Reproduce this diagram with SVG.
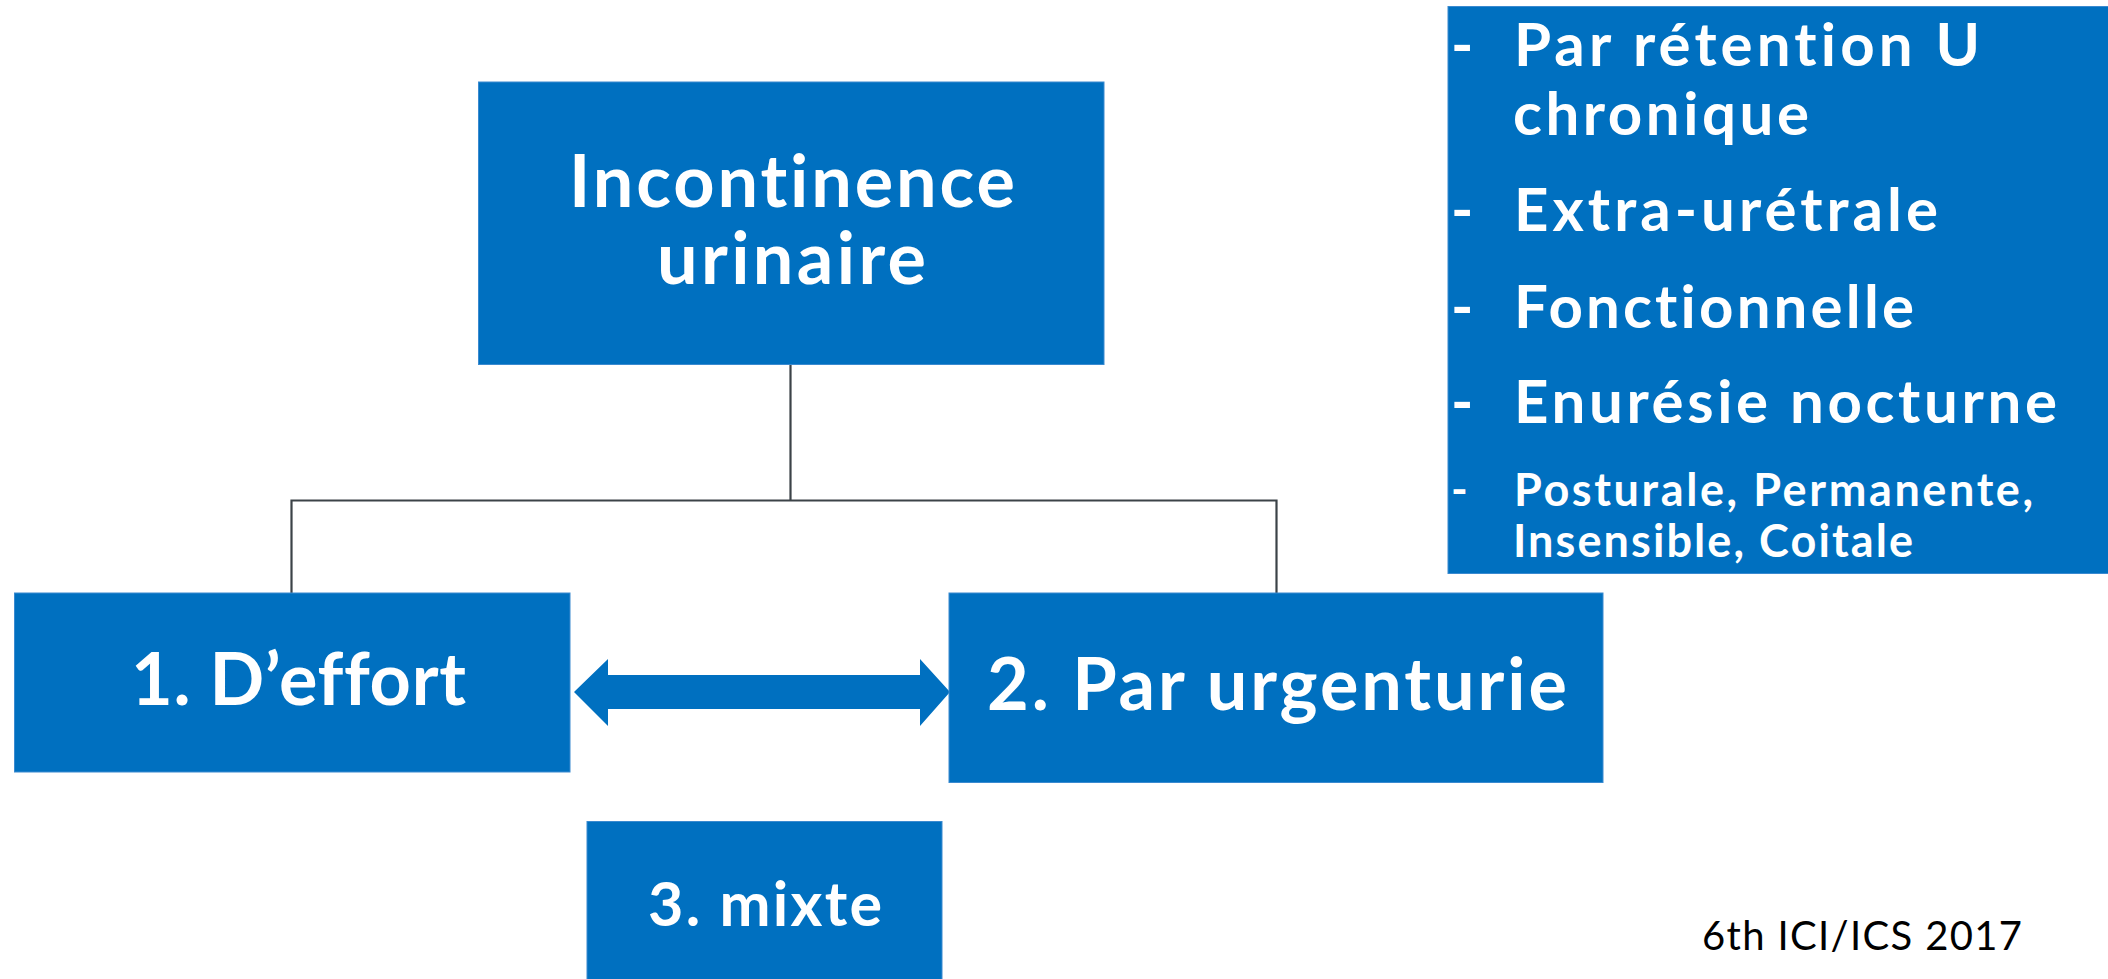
<svg xmlns="http://www.w3.org/2000/svg" width="2108" height="979" viewBox="0 0 2108 979">
  <style>
    .box { fill: #0070C0; stroke: #3a8ad0; stroke-width: 1; }
    .t { font-family: Lato, "Open Sans", "DejaVu Sans", sans-serif; font-weight: 700; fill: #ffffff; font-variant-ligatures: none; font-feature-settings: "liga" 0, "clig" 0; }
    .big { font-size: 72px; }
    .mid { font-size: 61px; }
    .lst { font-size: 60px; }
    .sml { font-size: 45px; }
    .conn { fill: none; stroke: #3c4348; stroke-width: 2.2; }
    .arrow { fill: #0070C0; }
    .foot { font-family: Lato, "Open Sans", "DejaVu Sans", sans-serif; font-weight: 400; font-size: 40px; fill: #000000; font-variant-ligatures: none; }
  </style>
  <rect width="2108" height="979" fill="#ffffff"/>

  <g id="connectors">
    <path class="conn" d="M790.5 364 V500.5 M291.5 593 V500.5 H1276.5 V593"/>
    <polygon class="arrow" points="574,692 608,659 608,675 920,675 920,659 950,692 920,726 920,709 608,709 608,726"/>
  </g>

  <g id="node-incontinence">
    <rect class="box" x="478.5" y="82" width="625.5" height="282.5"/>
    <text class="t big">
      <tspan x="569" y="207" textLength="446" lengthAdjust="spacing">Incontinence</tspan>
      <tspan x="657" y="284" textLength="269" lengthAdjust="spacing">urinaire</tspan>
    </text>
  </g>

  <g id="node-effort">
    <rect class="box" x="14.5" y="593" width="555.5" height="179"/>
    <text class="t big" x="131" y="705" textLength="335" lengthAdjust="spacing">1. D’effort</text>
  </g>

  <g id="node-urgenturie">
    <rect class="box" x="949" y="593" width="654" height="189.5"/>
    <text class="t big" x="987" y="710" textLength="580" lengthAdjust="spacing">2. Par urgenturie</text>
  </g>

  <g id="node-mixte">
    <rect class="box" x="587" y="821.5" width="355" height="160"/>
    <text class="t mid" x="648" y="926" textLength="234" lengthAdjust="spacing">3. mixte</text>
  </g>

  <g id="node-autres">
    <rect class="box" x="1448" y="6.5" width="662" height="567"/>
    <text class="t lst">
      <tspan x="1451" y="66">-</tspan>
      <tspan x="1514" y="66" textLength="466" lengthAdjust="spacing">Par rétention U</tspan>
      <tspan x="1513" y="135" textLength="296" lengthAdjust="spacing">chronique</tspan>
    </text>
    <text class="t lst"><tspan x="1451" y="231">-</tspan><tspan x="1514" y="231" textLength="424" lengthAdjust="spacing">Extra-urétrale</tspan></text>
    <text class="t lst"><tspan x="1451" y="328">-</tspan><tspan x="1514" y="328" textLength="400" lengthAdjust="spacing">Fonctionnelle</tspan></text>
    <text class="t lst"><tspan x="1451" y="423">-</tspan><tspan x="1514" y="423" textLength="543" lengthAdjust="spacing">Enurésie nocturne</tspan></text>
    <text class="t sml">
      <tspan x="1451" y="506">-</tspan>
      <tspan x="1514" y="506" textLength="519" lengthAdjust="spacing">Posturale, Permanente,</tspan>
      <tspan x="1513" y="557" textLength="400" lengthAdjust="spacing">Insensible, Coitale</tspan>
    </text>
  </g>

  <g id="footer">
    <text class="foot" x="1702" y="950" textLength="320" lengthAdjust="spacing">6th ICI/ICS 2017</text>
  </g>
</svg>
